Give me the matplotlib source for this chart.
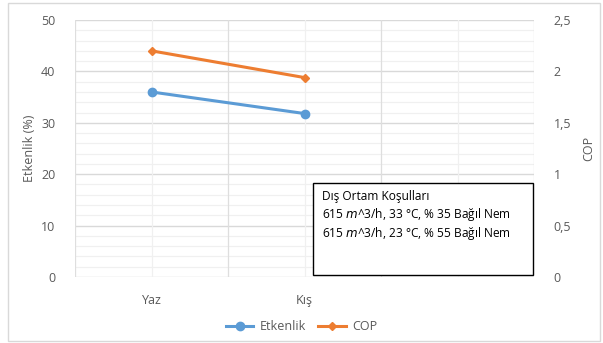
import numpy as np
import matplotlib
matplotlib.use('Agg')
import matplotlib.pyplot as plt
from matplotlib.patches import Rectangle
from matplotlib.ticker import MultipleLocator, FixedLocator, FuncFormatter

# data
seasons = ['Yaz', 'Kış']
season_pos = [1, 3]
etkenlik = [36.0, 31.8]
cop = [2.20, 1.94]

box_lines = ['Dış Ortam Koşulları',
             '615 $m$^3/h, 33 °C, % 35 Bağıl Nem',
             '615 $m$^3/h, 23 °C, % 55 Bağıl Nem']

plt.rcParams['font.family'] = ['Open Sans', 'DejaVu Sans']
grey = '#595959'
blue = '#5b9bd5'
orange = '#ed7d31'

fig = plt.figure(figsize=(6.03, 3.43), dpi=100)
ax = fig.add_axes([75/603., 66/343., 459/603., 257/343.])
ax2 = ax.twinx()

ax.plot(season_pos, etkenlik, color=blue, lw=2.2, marker='o', ms=6, label='Etkenlik', zorder=5)
ax2.plot(season_pos, cop, color=orange, lw=2.2, marker='D', ms=4, label='COP', zorder=5)

ax.set_xlim(0, 6)
ax.set_ylim(0, 50)
ax2.set_ylim(0, 2.5)

ax.xaxis.set_major_locator(FixedLocator(season_pos))
ax.set_xticklabels(seasons)
ax.yaxis.set_major_locator(MultipleLocator(10))
ax2.yaxis.set_major_locator(MultipleLocator(0.5))
ax2.yaxis.set_major_formatter(FuncFormatter(lambda v, p: ('%g' % v).replace('.', ',')))

# grid lines
for y in np.arange(0, 51, 2):
    c = '#d9d9d9' if y % 10 == 0 else '#f0f0f0'
    ax.axhline(y, color=c, lw=1.0 if y % 10 == 0 else 0.9, zorder=0)
for x in [0, 2, 4, 6]:
    ax.axvline(x, color='#dedede', lw=0.9, zorder=0)
for x in [1, 3, 5]:
    ax.axvline(x, color='#f0f0f0', lw=0.9, zorder=0)

for a in (ax, ax2):
    for s in a.spines.values():
        s.set_visible(False)
    a.tick_params(which='both', length=0, colors=grey, labelsize=9)
ax.tick_params(axis='x', pad=12)
ax.tick_params(axis='y', pad=14)
ax2.tick_params(axis='y', pad=14)

ax.set_ylabel('Etkenlik (%)', color=grey, fontsize=9, labelpad=4)
ax2.set_ylabel('COP', color=grey, fontsize=9, labelpad=8)

# text box
ax.add_patch(Rectangle((313/603., 68/343.), 220/603., 92/343., transform=fig.transFigure,
                       facecolor='white', edgecolor='black', lw=1.0, zorder=10, clip_on=False))
for i, t in enumerate(box_lines):
    fig.text(322/603., 1 - (197 + i*18)/343., t, fontsize=8.6, color='black', va='center', zorder=11)

# legend
h1, l1 = ax.get_legend_handles_labels()
h2, l2 = ax2.get_legend_handles_labels()
fig.legend(h1 + h2, l1 + l2, loc='center', bbox_to_anchor=(0.5, 1 - 327/343.), ncol=2,
           frameon=False, fontsize=9, labelcolor=grey, handlelength=2.2, handletextpad=0.5,
           columnspacing=1.0)

# chart border
fig.patches.append(Rectangle((8/603., 2/343.), 592/603., 338/343., transform=fig.transFigure,
                             fill=False, edgecolor='#d9d9d9', lw=1.0))

fig.savefig('out.png', dpi=100)
